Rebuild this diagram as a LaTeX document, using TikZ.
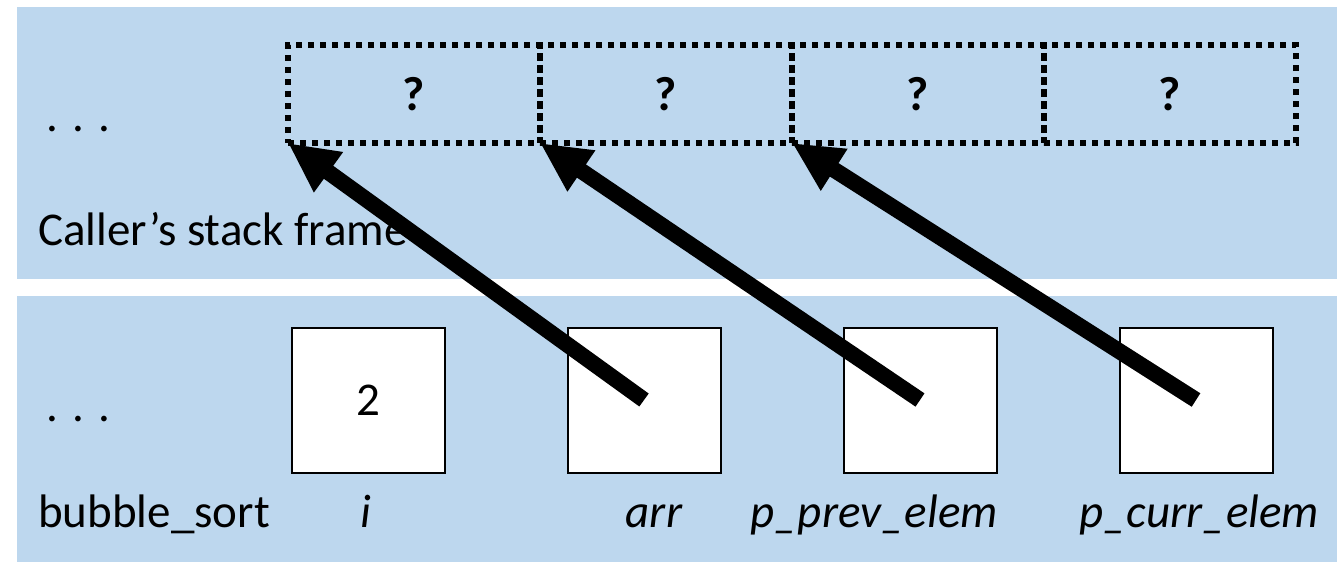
\documentclass[tikz,border=0pt]{standalone}
\usepackage{fontspec}
\setmainfont{Carlito}
\usepackage{xcolor}
\usetikzlibrary{arrows.meta,positioning}
\definecolor{framebg}{HTML}{BDD7EE}
\tikzset{
  frame/.style={fill=framebg, draw=none},
  cell/.style={draw, line width=6pt, dash pattern=on 6pt off 6pt, minimum width=252pt, minimum height=98pt, inner sep=0pt, outer sep=0pt, font=\fontsize{48}{56}\selectfont\bfseries},
  slot/.style={draw, line width=2pt, fill=white, minimum width=153pt, minimum height=145pt, inner sep=0pt, outer sep=0pt, font=\fontsize{47}{56}\selectfont},
  txt/.style={anchor=base west, inner sep=0pt, font=\fontsize{47}{56}\selectfont},
  varname/.style={anchor=base, inner sep=0pt, font=\fontsize{47}{56}\selectfont\itshape},
  pointer/.style={-{Triangle[length=50pt, width=46pt]}, line width=16pt}
}
\begin{document}
\begin{tikzpicture}[x=1pt, y=-1pt]
  \useasboundingbox (0,0) rectangle (1337,562);
  % stack frames
  \fill[frame] (17,7) rectangle (1337,279);
  \fill[frame] (17,296) rectangle (1337,562);

  % caller's frame
  \node[txt] (dotsa) at (46,131) {. . .};
  \node[txt] (caller) at (38,245) {Caller’s stack frame};
  \node[cell] (c1) at (414,94) {\raisebox{-3pt}{?}};
  \node[cell, right=0pt of c1] (c2) {\raisebox{-3pt}{?}};
  \node[cell, right=0pt of c2] (c3) {\raisebox{-3pt}{?}};
  \node[cell, right=0pt of c3] (c4) {\raisebox{-3pt}{?}};

  % bubble_sort frame
  \node[txt] (dotsb) at (46,421) {. . .};
  \node[txt] (func) at (38,527) {bubble\_sort};
  \node[slot] (boxi) at (368,400) {2};
  \node[slot, right=123pt of boxi] (boxarr) {};
  \node[slot, right=123pt of boxarr] (boxprev) {};
  \node[slot, right=123pt of boxprev] (boxcurr) {};

  \node[varname] (lbli) at (366,527) {i};
  \node[varname] (lblarr) at (654,527) {arr};
  \node[varname] (lblprev) at (874,527) {p\_prev\_elem};
  \node[varname] (lblcurr) at (1199,527) {p\_curr\_elem};

  % pointers
  \draw[pointer] (boxarr.center) -- (c1.south west);
  \draw[pointer] (boxprev.center) -- (c2.south west);
  \draw[pointer] (boxcurr.center) -- (c3.south west);
\end{tikzpicture}
\end{document}
